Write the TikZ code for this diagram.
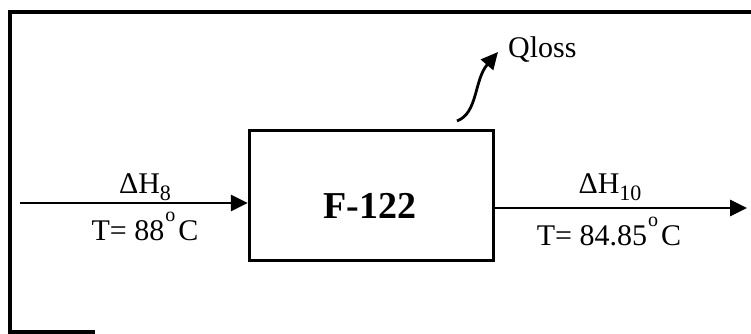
\documentclass[tikz,border=0pt]{standalone}
\usepackage{fontspec}
\setmainfont{Liberation Serif}
\usetikzlibrary{arrows.meta}
\tikzset{
  lbl/.style={inner sep=0pt, anchor=base, font=\fontsize{30}{30}\selectfont},
  unitbox/.style={draw, line width=3.5pt, minimum width=244pt, minimum height=130pt, inner sep=0pt},
  flow/.style={line width=2.8pt, -{Triangle[length=17pt,width=16pt]}},
  frameline/.style={line width=4pt},
}
\newcommand{\subnum}[1]{\raisebox{-0.24em}{\fontsize{22}{22}\selectfont #1}}
\newcommand{\degsym}{\raisebox{0.62em}{\fontsize{20}{20}\selectfont o}}
\begin{document}
\begin{tikzpicture}[x=1pt,y=-1pt]
  \clip (0,0) rectangle (751,334);
  \fill[white] (0,0) rectangle (751,334);
  % outer frame (cut off at right and bottom)
  \draw[frameline] (95,332) -- (9.5,332) -- (9.5,12.5) -- (770,12.5);
  % unit
  \node[unitbox] (box) at (371.5,195.5) {};
  \node[lbl, font=\bfseries\fontsize{38}{38}\selectfont] (name) at (370,218) {F-122};
  % inlet
  \coordinate (in) at (20,203);
  \draw[flow] (in) -- (in -| box.west);
  \node[lbl] (h8) at (145,193) {ΔH\subnum{8}};
  \node[lbl] (t8) at (145,240) {T= 88\kern1pt\degsym\kern3pt C};
  % outlet
  \coordinate (out) at (747,208);
  \draw[flow] (out -| box.east) -- (out);
  \node[lbl] (h10) at (610,193) {ΔH\subnum{10}};
  \node[lbl] (t10) at (609,245) {T= 84.85\kern1pt\degsym\kern3pt C};
  % heat loss
  \coordinate (qs) at (457,121);
  \coordinate (qe) at (498,52);
  \draw[flow] (qs) .. controls (478,113) and (474,80) .. (qe);
  \node[lbl, anchor=base west] (q) at (508,58) {Qloss};
\end{tikzpicture}
\end{document}
